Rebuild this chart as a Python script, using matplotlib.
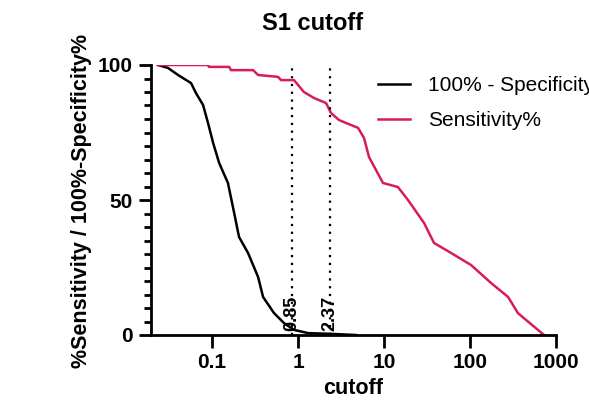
import numpy as np
import matplotlib.pyplot as plt
from matplotlib.ticker import FixedLocator, NullLocator

plt.rcParams['font.family'] = ['Liberation Sans', 'DejaVu Sans']

# 100% - Specificity% curve
spec_cutoff = [0.0235, 0.0308, 0.0402, 0.057, 0.065, 0.0786, 0.0898, 0.103, 0.121,
               0.153, 0.175, 0.206, 0.262, 0.343, 0.392, 0.526, 0.687, 0.898, 1.31, 2.5, 4.73]
spec_pct = [100, 98.9, 96.3, 93.3, 89.6, 85.2, 78.5, 71.1, 63.7,
            56.3, 47.4, 36.3, 30.4, 21.5, 14.1, 8.1, 4.4, 1.9, 0.7, 0.4, 0]

# Sensitivity% curve
sens_cutoff = [0.0235, 0.0898, 0.092, 0.158, 0.166, 0.30, 0.343, 0.585, 0.634, 0.83,
               0.898, 1.17, 1.53, 2.12, 2.42, 3.0, 4.99, 5.85, 6.69, 9.73, 14.5, 19.0,
               29.2, 38.1, 60.1, 103, 175, 277, 361, 725]
sens_pct = [100, 100, 99.3, 99.3, 98.1, 98.1, 96.3, 95.6, 94.4, 94.4,
            94.4, 90, 87.8, 85.9, 82.2, 79.6, 76.7, 73, 65.9, 56.3, 54.8, 50,
            41.5, 34.1, 30.4, 25.9, 19.3, 14.1, 8.1, 0]

cutoffs = [0.85, 2.37]
cutoff_labels = ['0.85', '2.37']

fig = plt.figure(figsize=(5.89, 4.05), dpi=100)
ax = fig.add_axes([151/589, 1-335/405, (556-151)/589, (335-65)/405])

ax.plot(spec_cutoff, spec_pct, color='black', lw=1.8, label='100% - Specificity%')
ax.plot(sens_cutoff, sens_pct, color='#d81b60', lw=1.8, label='Sensitivity%')

for c, lab in zip(cutoffs, cutoff_labels):
    ax.axvline(c, color='black', ls=(0, (1, 2.5)), lw=1.6)
    ax.text(c, 1.5, lab, rotation=90, ha='center', va='bottom', fontsize=13,
            fontweight='bold')

ax.set_xscale('log')
ax.set_xlim(0.0195, 1000)
ax.set_ylim(0, 100)
ax.xaxis.set_major_locator(FixedLocator([0.1, 1, 10, 100, 1000]))
ax.xaxis.set_minor_locator(NullLocator())
ax.set_xticklabels(['0.1', '1', '10', '100', '1000'])
ax.set_yticks([0, 50, 100])
ax.set_yticks(np.arange(0, 101, 5), minor=True)

for s in ['top', 'right']:
    ax.spines[s].set_visible(False)
for s in ['left', 'bottom']:
    ax.spines[s].set_linewidth(2)
ax.tick_params(which='major', length=9, width=2, labelsize=15, pad=4)
ax.tick_params(which='minor', length=5, width=2)
for t in ax.get_xticklabels() + ax.get_yticklabels():
    t.set_fontweight('bold')

ax.set_xlabel('cutoff', fontsize=15.5, fontweight='bold', labelpad=4)
fig.text(82/589, 1-201/405, '%Sensitivity / 100%-Specificity%', rotation=90,
         ha='center', va='center', fontsize=15.5, fontweight='bold')
fig.text(313/589, 1-23/405, 'S1 cutoff', ha='center', va='center', fontsize=17,
         fontweight='bold')

ax.legend(loc='upper left', bbox_to_anchor=(370/589, 1-68/405),
          bbox_transform=fig.transFigure, frameon=False, fontsize=15,
          handlelength=1.5, handletextpad=0.9, labelspacing=0.75, borderaxespad=0)

fig.savefig('out.png', dpi=100)
